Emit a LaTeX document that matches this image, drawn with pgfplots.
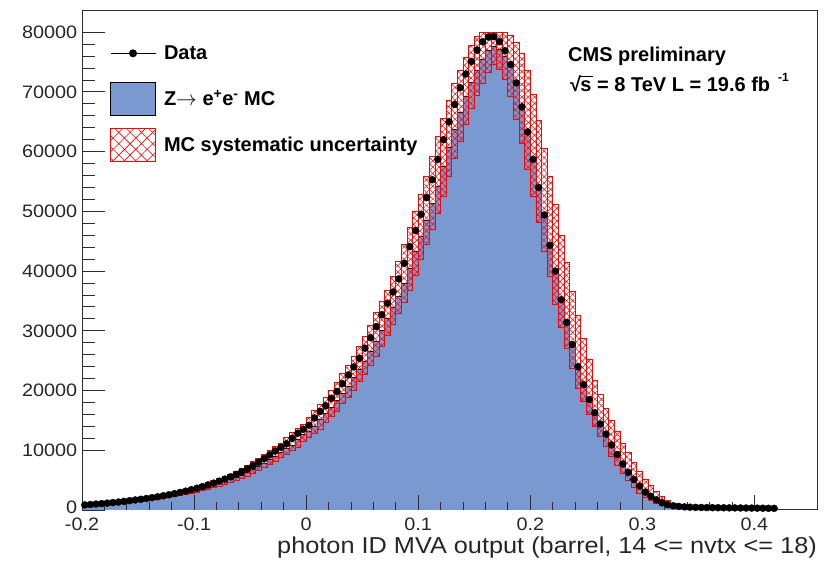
\documentclass[border=0pt]{standalone}
\usepackage{fontspec}
\setmainfont{Liberation Sans}
\newfontfamily\regfont[FakeStretch=1.1]{Liberation Sans}
\usepackage{pgfplots}
\usepackage{pgfplotstable}
\pgfplotsset{compat=1.18}
\usetikzlibrary{patterns.meta}
\definecolor{mcblue}{RGB}{122,153,209}
\definecolor{framegray}{RGB}{45,45,45}
\newsavebox\radbox
\newsavebox\argbox
\newcommand\rootsqrt[1]{\sbox\radbox{√}\sbox\argbox{#1}\usebox\radbox\kern-0.7pt\rlap{\rule[\dimexpr\ht\radbox-1.2pt\relax]{\dimexpr\wd\argbox+1pt\relax}{1.2pt}}\usebox\argbox}

% MC histogram: left bin edge, content
\pgfplotstableread{
x y
-0.200 830
-0.195 833
-0.190 902
-0.185 970
-0.180 1049
-0.175 1127
-0.170 1215
-0.165 1303
-0.160 1411
-0.155 1529
-0.150 1646
-0.145 1764
-0.140 1891
-0.135 2029
-0.130 2176
-0.125 2332
-0.120 2499
-0.115 2685
-0.110 2881
-0.105 3097
-0.100 3332
-0.095 3577
-0.090 3842
-0.085 4116
-0.080 4410
-0.075 4733
-0.070 5076
-0.065 5449
-0.060 5851
-0.055 6292
-0.050 6762
-0.045 7281
-0.040 7840
-0.035 8428
-0.030 9045
-0.025 9682
-0.020 10290
-0.015 10878
-0.010 11760
-0.005 12593
0.000 13230
0.005 13916
0.010 15092
0.015 16170
0.020 17101
0.025 18326
0.030 19453
0.035 20727
0.040 22148
0.045 23471
0.050 24892
0.055 26558
0.060 28273
0.065 30086
0.070 32046
0.075 33908
0.080 35770
0.085 37926
0.090 40474
0.095 43218
0.100 45864
0.105 48510
0.110 51254
0.115 54194
0.120 57526
0.125 60760
0.130 63700
0.135 66542
0.140 69286
0.145 71540
0.150 73598
0.155 75500
0.160 77000
0.165 77600
0.170 77200
0.175 76000
0.180 74300
0.185 71400
0.190 67500
0.195 63300
0.200 58800
0.205 54200
0.210 49600
0.215 44600
0.220 40300
0.225 35500
0.230 31600
0.235 27900
0.240 24400
0.245 21000
0.250 18800
0.255 16500
0.260 14500
0.265 12700
0.270 10900
0.275 9300
0.280 7700
0.285 6300
0.290 5050
0.295 3950
0.300 2950
0.305 2200
0.310 1600
0.315 1100
0.320 800
0.325 600
0.330 450
0.335 350
0.340 280
0.345 230
0.350 200
0.355 180
0.360 160
0.365 150
0.370 140
0.375 130
0.380 120
0.385 110
0.390 100
0.395 95
0.400 90
0.405 85
0.410 80
0.415 75
0.420 75
}\mctable

% Data: bin centre, content
\pgfplotstableread{
x y
-0.1975 850
-0.1925 920
-0.1875 990
-0.1825 1070
-0.1775 1150
-0.1725 1240
-0.1675 1330
-0.1625 1440
-0.1575 1560
-0.1525 1680
-0.1475 1800
-0.1425 1930
-0.1375 2070
-0.1325 2220
-0.1275 2380
-0.1225 2550
-0.1175 2740
-0.1125 2940
-0.1075 3160
-0.1025 3400
-0.0975 3650
-0.0925 3920
-0.0875 4200
-0.0825 4500
-0.0775 4830
-0.0725 5180
-0.0675 5560
-0.0625 5970
-0.0575 6420
-0.0525 6900
-0.0475 7430
-0.0425 8000
-0.0375 8600
-0.0325 9230
-0.0275 9880
-0.0225 10500
-0.0175 11100
-0.0125 12000
-0.0075 12850
-0.0025 13500
0.0025 14200
0.0075 15400
0.0125 16500
0.0175 17450
0.0225 18700
0.0275 19850
0.0325 21150
0.0375 22600
0.0425 23950
0.0475 25400
0.0525 27100
0.0575 28850
0.0625 30700
0.0675 32700
0.0725 34600
0.0775 36500
0.0825 38700
0.0875 41300
0.0925 44100
0.0975 46800
0.1025 49500
0.1075 52300
0.1125 55300
0.1175 58700
0.1225 62000
0.1275 65000
0.1325 67900
0.1375 70700
0.1425 73000
0.1475 75100
0.1525 77000
0.1575 78400
0.1625 79200
0.1675 79250
0.1725 78400
0.1775 76900
0.1825 74600
0.1875 71500
0.1925 67500
0.1975 63300
0.2025 58700
0.2075 54000
0.2125 49400
0.2175 44300
0.2225 40000
0.2275 35200
0.2325 31400
0.2375 27700
0.2425 24000
0.2475 21000
0.2525 18500
0.2575 16300
0.2625 14400
0.2675 12700
0.2725 10900
0.2775 9300
0.2825 7700
0.2875 6300
0.2925 5100
0.2975 4000
0.3025 3000
0.3075 2300
0.3125 1700
0.3175 1200
0.3225 900
0.3275 700
0.3325 600
0.3375 520
0.3425 470
0.3475 440
0.3525 420
0.3575 400
0.3625 390
0.3675 380
0.3725 370
0.3775 360
0.3825 350
0.3875 340
0.3925 330
0.3975 320
0.4025 310
0.4075 300
0.4125 290
0.4175 280
}\datatable

% MC systematic band: bin centre, lower edge, height
\pgfplotstableread{
x lo h
-0.1975 805 124
-0.1925 805 194
-0.1875 808 272
-0.1825 875 286
-0.1775 941 310
-0.1725 1018 324
-0.1675 1093 360
-0.1625 1179 396
-0.1575 1264 431
-0.1525 1369 448
-0.1475 1483 465
-0.1425 1597 493
-0.1375 1711 530
-0.1325 1834 568
-0.1275 1968 606
-0.1225 2111 655
-0.1175 2262 705
-0.1125 2424 766
-0.1075 2604 828
-0.1025 2795 889
-0.0975 3004 953
-0.0925 3232 1007
-0.0875 3470 1072
-0.0825 3727 1148
-0.0775 3993 1235
-0.0725 4278 1334
-0.0675 4591 1436
-0.0625 4924 1557
-0.0575 5286 1679
-0.0525 5675 1824
-0.0475 6103 1972
-0.0425 6559 2122
-0.0375 7063 2253
-0.0325 7605 2367
-0.0275 8175 2424
-0.0225 8774 2430
-0.0175 9392 2721
-0.0125 9981 2990
-0.0075 10552 3075
-0.0025 11407 2926
0.0025 12215 3330
0.0075 12833 3822
0.0125 13499 4115
0.0175 14639 4237
0.0225 15685 4352
0.0275 16588 4761
0.0325 17776 5036
0.0375 18869 5306
0.0425 20105 5534
0.0475 21484 5871
0.0525 22767 6354
0.0575 24145 6844
0.0625 25761 7246
0.0675 27425 7500
0.0725 29183 7660
0.0775 31085 7979
0.0825 32891 8797
0.0875 34697 9818
0.0925 36788 10452
0.0975 39260 10705
0.1025 41921 10871
0.1075 44488 11332
0.1125 47055 12197
0.1175 49716 12867
0.1225 52568 13043
0.1275 55800 12738
0.1325 58937 12428
0.1375 61789 11897
0.1425 64546 11260
0.1475 67207 10558
0.1525 69394 9916
0.1575 71390 8538
0.1625 73235 6693
0.1675 74690 5238
0.1725 73720 6208
0.1775 72071 7857
0.1825 69258 10258
0.1875 65475 12805
0.1925 61401 15128
0.1975 57036 16506
0.2025 52574 16951
0.2075 48112 17087
0.2125 43262 17302
0.2175 39091 16735
0.2225 34435 16653
0.2275 30652 15286
0.2325 27063 14446
0.2375 23668 12897
0.2425 20370 12178
0.2475 18236 10501
0.2525 16005 9127
0.2575 14065 7565
0.2625 12319 7045
0.2675 10573 6422
0.2725 9021 5914
0.2775 7469 5612
0.2825 6111 5116
0.2875 4899 4680
0.2925 3832 4099
0.2975 2862 3627
0.3025 2134 3068
0.3075 1552 2517
0.3125 1067 1972
0.3175 776 1490
0.3225 582 1066
0.3275 437 696
0.3325 340 484
}\bandtable

\pgfplotsset{
  common/.style={
    scale only axis, width=735pt, height=499pt,
    at={(82pt,58pt)}, anchor=south west,
    xmin=-0.2, xmax=0.4558, ymin=0, ymax=83550,
    enlargelimits=false,
  },
}

\begin{document}
\begin{tikzpicture}
\useasboundingbox (0,0) rectangle (825pt,568pt);
% MC histogram + frame + y axis
\begin{axis}[common,
  axis line style={draw=framegray, line width=1pt},
  xtick=\empty,
  ytick={10000,20000,30000,40000,50000,60000,70000,80000},
  extra y ticks={0},
  extra y tick style={yticklabel style={yshift=3pt}},
  minor y tick num=4,
  ytick pos=left,
  tick align=inside,
  major tick length=22.7pt, minor tick length=12.7pt,
  tick style={framegray, line width=0.9pt},
  scaled y ticks=false,
  yticklabel style={/pgf/number format/fixed, /pgf/number format/1000 sep={},
    /pgf/number format/assume math mode=true,
    font=\regfont\fontsize{18}{20}\selectfont, inner sep=0pt, xshift=-4.7pt, text=black!85},
]
\addplot[const plot, fill=mcblue, draw=black, line width=0.8pt] table[x=x, y=y] {\mctable} \closedcycle;
\end{axis}
% systematic band
\begin{axis}[common, hide axis, ybar stacked, bar width=0.005]
\addplot[draw=none, fill=none] table[x=x, y=lo] {\bandtable};
\addplot[draw=red, line width=0.8pt, pattern={Hatch[angle=45,distance=4.5pt,line width=0.5pt]}, pattern color=red] table[x=x, y=h] {\bandtable};
\end{axis}
% data, x axis, legend, text
\begin{axis}[common,
  axis line style={draw=none},
  ytick=\empty,
  xtick={-0.2,-0.1,0,0.1,0.2,0.3,0.4},
  minor x tick num=4,
  xtick pos=left,
  tick align=inside,
  major tick length=15pt, minor tick length=8.3pt,
  tick style={framegray, line width=0.9pt},
  scaled x ticks=false,
  xticklabel style={/pgf/number format/fixed,
    /pgf/number format/assume math mode=true,
    font=\regfont\fontsize{18}{20}\selectfont, inner sep=0pt, yshift=-8pt, text=black!85},
  xlabel={photon ID MVA output (barrel, 14 <= nvtx <= 18)},
  xlabel style={at={(rel axis cs:1,0)}, anchor=base east, yshift=-43pt, inner sep=0pt,
    font=\regfont\fontsize{23}{26}\selectfont, text=black!85},
  legend style={at={(rel axis cs:0,1)}, anchor=north west, xshift=28pt, yshift=-25.8pt,
    draw=none, fill=none, inner sep=0pt, outer sep=0pt, row sep=12pt, column sep=8pt,
    font=\fontsize{20}{24}\selectfont\bfseries, nodes={inner sep=0pt}},
  legend cell align=left,
]
\addplot[only marks, mark=*, mark size=3.5pt, black,
  error bars/x dir=both, error bars/x fixed=0.0025,
  error bars/error mark=none, error bars/error bar style={black, line width=0.8pt},
  forget plot] table[x=x, y=y] {\datatable};
\addlegendimage{legend image code/.code={
  \path[draw=none, fill=none] (0pt,-16.5pt) rectangle (45pt,16.5pt);
  \draw[black, line width=1pt, mark=*, mark size=3.5pt, mark repeat=2, mark phase=2]
    plot coordinates {(0pt,0pt) (22.5pt,0pt) (45pt,0pt)};}}
\addlegendentry{Data}
\addlegendimage{legend image code/.code={
  \draw[fill=mcblue, draw=black, line width=1pt] (0pt,-16.5pt) rectangle (45pt,16.5pt);}}
\addlegendentry{Z$\rightarrow$ e\textsuperscript{+}e\textsuperscript{-} MC}
\addlegendimage{legend image code/.code={
  \draw[draw=red, line width=1pt, pattern={Hatch[angle=45,distance=8pt,line width=0.6pt]}, pattern color=red]
    (0pt,-16.5pt) rectangle (45pt,16.5pt);}}
\addlegendentry{MC systematic uncertainty}
\node[anchor=base west, font=\fontsize{20}{24}\selectfont\bfseries, inner sep=0pt]
  at (rel axis cs:0.6612,0.8984) {CMS preliminary};
\node[anchor=base west, font=\fontsize{20}{24}\selectfont\bfseries, inner sep=0pt]
  at (rel axis cs:0.6639,0.8383) {\rootsqrt{s} = 8 TeV L = 19.6 fb\hspace{8pt}\raisebox{10pt}{\fontsize{12}{14}\selectfont -1}};
\end{axis}
\end{tikzpicture}
\end{document}
